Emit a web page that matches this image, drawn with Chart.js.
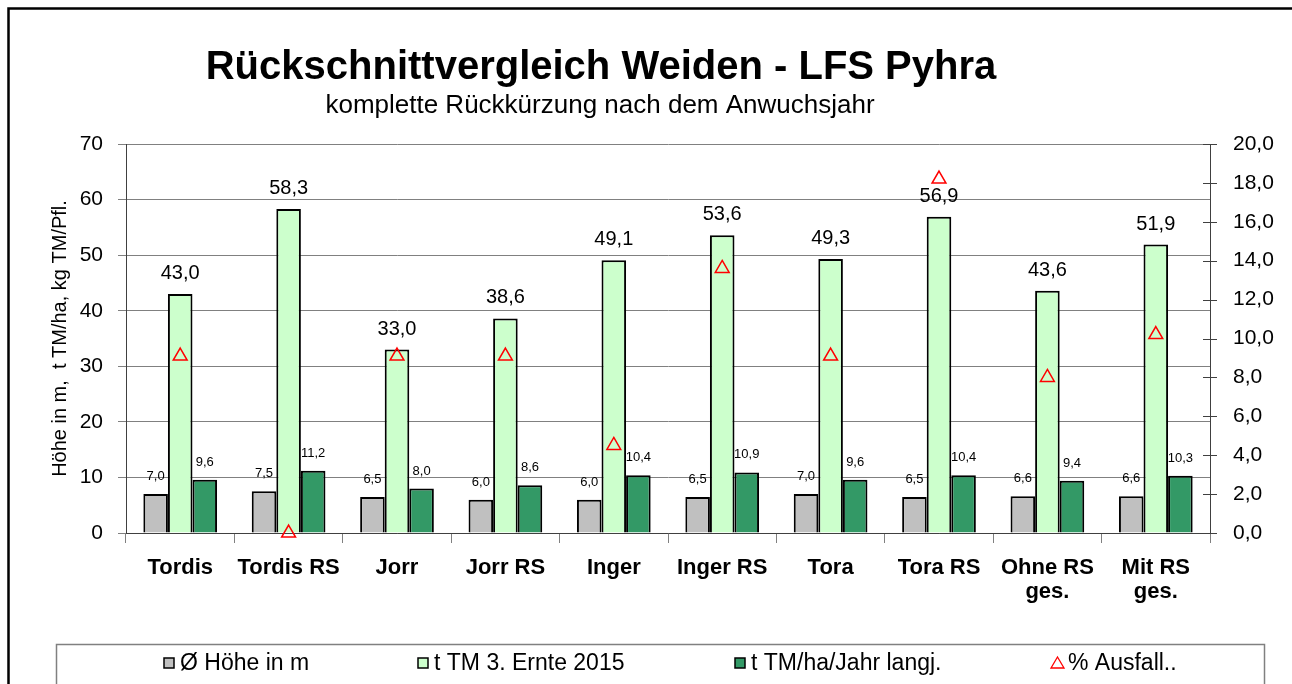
<!DOCTYPE html>
<html lang="de">
<head>
  <meta charset="UTF-8" />
  <title>Rückschnittvergleich Weiden - LFS Pyhra</title>
  <script src="https://cdn.jsdelivr.net/npm/chart.js"></script>
  <style>
    html, body {
      margin: 0;
      padding: 0;
      background: #fff;
    }
    #wrap {
      width: 1292px;
      height: 684px;
      position: relative;
    }
  </style>
</head>
<body>
  <div id="wrap"><canvas id="chart" width="1292" height="684"></canvas></div>

  <script>
    const sorten = ["Tordis", "Tordis RS", "Jorr", "Jorr RS", "Inger", "Inger RS", "Tora", "Tora RS", ["Ohne RS", "ges."], ["Mit RS", "ges."]];
    const hoehe = [7.0, 7.5, 6.5, 6.0, 6.0, 6.5, 7.0, 6.5, 6.6, 6.6];
    const ernte2015 = [43.0, 58.3, 33.0, 38.6, 49.1, 53.6, 49.3, 56.9, 43.6, 51.9];
    const langj = [9.6, 11.2, 8.0, 8.6, 10.4, 10.9, 9.6, 10.4, 9.4, 10.3];
    const ausfall = [9.1, 0.0, 9.1, 9.1, 4.5, 13.6, 9.1, 18.2, 8.0, 10.2];

    const titel = "Rückschnittvergleich Weiden - LFS Pyhra";
    const untertitel = "komplette Rückkürzung nach dem Anwuchsjahr";
    const yTitel = "Höhe in m,  t TM/ha, kg TM/Pfl.";

    const FONT = "'Liberation Sans', Arial, sans-serif";
    const komma = (v) => v.toFixed(1).replace(".", ",");

    // Titel, Rahmen und Legende
    const rahmenPlugin = {
      id: "rahmen",
      beforeDraw(chart) {
        const ctx = chart.ctx;
        ctx.save();
        ctx.fillStyle = "#fff";
        ctx.fillRect(0, 0, chart.width, chart.height);
        ctx.strokeStyle = "#000";
        ctx.lineWidth = 2.5;
        ctx.strokeRect(8.5, 8.5, 1400, 800);
        ctx.restore();
      },
      afterDraw(chart) {
        const ctx = chart.ctx;
        ctx.save();
        ctx.fillStyle = "#000";
        ctx.textAlign = "center";
        ctx.textBaseline = "alphabetic";
        ctx.font = "bold 40px " + FONT;
        ctx.fillText(titel, 601, 79);
        ctx.font = "26px " + FONT;
        ctx.fillText(untertitel, 600, 113);

        // Legende
        ctx.strokeStyle = "#808080";
        ctx.lineWidth = 1.5;
        ctx.strokeRect(56.5, 644.5, 1208, 100);
        const eintraege = [
          { x: 164, text: "Ø Höhe in m", farbe: "#C0C0C0" },
          { x: 418, text: "t TM 3. Ernte 2015", farbe: "#CCFFCC" },
          { x: 735, text: "t TM/ha/Jahr langj.", farbe: "#339966" },
          { x: 1051, text: "% Ausfall..", farbe: null }
        ];
        ctx.font = "23px " + FONT;
        ctx.textAlign = "left";
        ctx.textBaseline = "middle";
        eintraege.forEach(e => {
          if (e.farbe) {
            ctx.fillStyle = e.farbe;
            ctx.fillRect(e.x, 658, 10, 10);
            ctx.strokeStyle = "#000";
            ctx.lineWidth = 1.5;
            ctx.strokeRect(e.x, 658, 10, 10);
          } else {
            ctx.strokeStyle = "#FF0000";
            ctx.lineWidth = 1.3;
            ctx.beginPath();
            ctx.moveTo(e.x + 6.5, 657);
            ctx.lineTo(e.x + 13, 668);
            ctx.lineTo(e.x, 668);
            ctx.closePath();
            ctx.stroke();
          }
          ctx.fillStyle = "#000";
          ctx.fillText(e.text, e.x + (e.farbe ? 16 : 17), 664);
        });

        // Kreuz-Teilstriche rechte Achse
        const y2 = chart.scales.y2;
        ctx.strokeStyle = "#404040";
        ctx.lineWidth = 1;
        y2.ticks.forEach(t => {
          const py = Math.round(y2.getPixelForValue(t.value)) + 0.5;
          ctx.beginPath();
          ctx.moveTo(y2.left - 7, py);
          ctx.lineTo(y2.left + 7, py);
          ctx.stroke();
        });
        ctx.restore();
      }
    };

    // Wertbeschriftungen über den Säulen
    const wertePlugin = {
      id: "werte",
      afterDatasetsDraw(chart) {
        const ctx = chart.ctx;
        ctx.save();
        ctx.fillStyle = "#000";
        ctx.textAlign = "center";
        ctx.textBaseline = "alphabetic";
        [0, 1, 2].forEach(i => {
          const meta = chart.getDatasetMeta(i);
          const daten = chart.data.datasets[i].data;
          ctx.font = (i === 1 ? "20px " : "13px ") + FONT;
          meta.data.forEach((bar, j) => {
            ctx.fillText(komma(daten[j]), bar.x, bar.y - (i === 1 ? 15 : 14));
          });
        });
        ctx.restore();
      }
    };

    new Chart(document.getElementById("chart"), {
      type: "bar",
      data: {
        labels: sorten,
        datasets: [
          {
            label: "Ø Höhe in m",
            data: hoehe,
            backgroundColor: "#C0C0C0",
            borderColor: "#000",
            borderWidth: 2,
            order: 1
          },
          {
            label: "t TM 3. Ernte 2015",
            data: ernte2015,
            backgroundColor: "#CCFFCC",
            borderColor: "#000",
            borderWidth: 2,
            order: 1
          },
          {
            label: "t TM/ha/Jahr langj.",
            data: langj,
            backgroundColor: "#339966",
            borderColor: "#000",
            borderWidth: 2,
            order: 1
          },
          {
            type: "line",
            label: "% Ausfall..",
            data: ausfall,
            yAxisID: "y2",
            showLine: false,
            pointStyle: "triangle",
            pointRadius: 8,
            pointBorderColor: "#FF0000",
            pointBackgroundColor: "rgba(0,0,0,0)",
            pointBorderWidth: 1.5,
            clip: false,
            order: 0
          }
        ]
      },
      options: {
        responsive: false,
        animation: false,
        layout: { padding: { left: 44, right: 0, top: 144, bottom: 0 } },
        datasets: {
          bar: { categoryPercentage: 0.68, barPercentage: 1.0 }
        },
        plugins: {
          legend: { display: false },
          tooltip: { enabled: false }
        },
        scales: {
          x: {
            offset: true,
            grid: {
              display: true,
              offset: true,
              drawOnChartArea: false,
              tickLength: 10,
              color: "#808080"
            },
            border: { color: "#404040", width: 1 },
            ticks: {
              color: "#000",
              padding: 13,
              maxRotation: 0,
              autoSkip: false,
              font: { family: FONT, size: 22, weight: "bold", lineHeight: 1.1 }
            },
            afterFit(scale) { scale.height = 151; }
          },
          y: {
            position: "left",
            min: 0,
            max: 70,
            ticks: {
              stepSize: 10,
              color: "#000",
              padding: 15,
              font: { family: FONT, size: 21 }
            },
            grid: { color: "#808080", tickLength: 8 },
            border: { color: "#404040", width: 1 },
            title: {
              display: true,
              text: yTitel,
              color: "#000",
              font: { family: FONT, size: 20 },
              padding: { top: 4, bottom: 4 }
            },
            afterFit(scale) { scale.width = 82; }
          },
          y2: {
            position: "right",
            min: 0,
            max: 20,
            ticks: {
              stepSize: 2,
              color: "#000",
              padding: 15,
              font: { family: FONT, size: 21 },
              callback: (v) => komma(v)
            },
            grid: { display: false },
            border: { display: true, color: "#404040", width: 1 },
            afterFit(scale) { scale.width = 82; }
          }
        }
      },
      plugins: [rahmenPlugin, wertePlugin]
    });
  </script>
</body>
</html>
